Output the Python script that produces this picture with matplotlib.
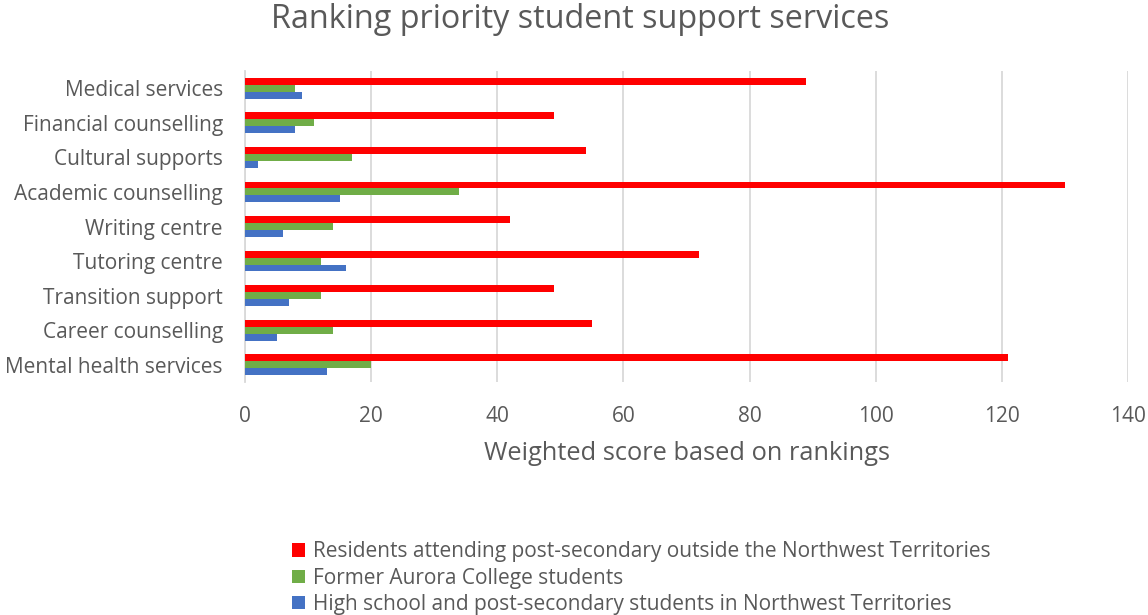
import matplotlib
matplotlib.use("Agg")
import matplotlib.pyplot as plt
import numpy as np
from matplotlib.patches import Patch

services = ["Mental health services", "Career counselling", "Transition support",
            "Tutoring centre", "Writing centre", "Academic counselling",
            "Cultural supports", "Financial counselling", "Medical services"]
residents_outside = [121, 55, 49, 72, 42, 130, 54, 49, 89]
former_aurora = [20, 14, 12, 12, 14, 34, 17, 11, 8]
nwt_students = [13, 5, 7, 16, 6, 15, 2, 8, 9]

series_labels = ["Residents attending post-secondary outside the Northwest Territories",
                 "Former Aurora College students",
                 "High school and post-secondary students in Northwest Territories"]
colors = ["#FF0000", "#70AD47", "#4472C4"]
xticks = [0, 20, 40, 60, 80, 100, 120, 140]

TEXT = "#595959"
plt.rcParams['font.family'] = ['Open Sans', 'DejaVu Sans']

fig = plt.figure(figsize=(11.48, 6.15), dpi=100)
ax = fig.add_axes([245 / 1148, 1 - 382 / 615, (1128 - 245) / 1148, 311 / 615])

y = np.arange(len(services))
h = 0.2
for vals, off, c in zip([residents_outside, former_aurora, nwt_students], [h, 0, -h], colors):
    ax.barh(y + off, vals, height=h, color=c, zorder=3)

ax.set_xlim(0, 140)
ax.set_ylim(-0.5, len(services) - 0.5)
ax.set_xticks(xticks)
ax.set_yticks(y)
ax.set_yticklabels(services, fontsize=15)
ax.grid(axis='x', color="#D9D9D9", linewidth=1.3, zorder=0)
for s in ["top", "right", "bottom"]:
    ax.spines[s].set_visible(False)
ax.spines["left"].set_color("#D9D9D9")
ax.spines["left"].set_linewidth(1.3)
ax.tick_params(axis='both', length=0, colors=TEXT)
ax.tick_params(axis='x', pad=17, labelsize=15)
ax.tick_params(axis='y', pad=16)
ax.set_xlabel("Weighted score based on rankings", fontsize=18.3, color=TEXT, labelpad=10)

fig.text(0.505, 1 - 19 / 615, "Ranking priority student support services",
         ha='center', va='center', fontsize=23.3, color=TEXT)

handles = [Patch(facecolor=c, edgecolor='none') for c in colors]
fig.legend(handles, series_labels, loc='upper left', bbox_to_anchor=(284 / 1148, 1 - 533 / 615),
           frameon=False, fontsize=15, labelcolor=TEXT, handlelength=0.6, handleheight=0.6,
           handletextpad=0.4, labelspacing=0.25, borderaxespad=0)

fig.savefig("out.png", dpi=100)
